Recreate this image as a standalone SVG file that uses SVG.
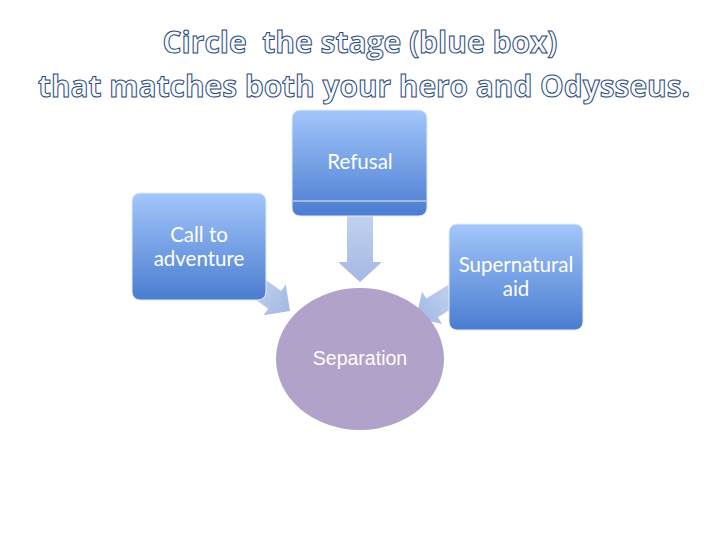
<svg xmlns="http://www.w3.org/2000/svg" width="720" height="540" viewBox="0 0 720 540">
<defs>
<linearGradient id="boxg" x1="0" y1="0" x2="0" y2="1">
<stop offset="0" stop-color="#a3c6fb"/>
<stop offset="1" stop-color="#4a7dd0"/>
</linearGradient>
<linearGradient id="arrg" x1="0" y1="0" x2="1" y2="0">
<stop offset="0" stop-color="#c3d3ef"/>
<stop offset="1" stop-color="#a3b8e3"/>
</linearGradient>
<linearGradient id="arrd" x1="0" y1="0" x2="0" y2="1">
<stop offset="0" stop-color="#c3d3ef"/>
<stop offset="1" stop-color="#a3b8e3"/>
</linearGradient>
</defs>
<style>
.title{font-family:"Open Sans","DejaVu Sans",sans-serif;font-weight:bold;font-size:30px;fill:#f6f9fd;stroke:#2c4876;stroke-width:1px;text-anchor:middle;white-space:pre}
.box{fill:url(#boxg);stroke:#e4ecf8;stroke-width:1}
.lbl{font-family:Lato,"Open Sans",sans-serif;font-size:20.5px;fill:#ffffff;text-anchor:middle}
.sep{font-family:"Liberation Sans",Arial,sans-serif;font-size:19.5px;fill:#ffffff;text-anchor:middle}
.arr{fill:url(#arrg)}
</style>
<rect width="720" height="540" fill="#ffffff"/>
<text class="title" x="360" y="53" textLength="395" lengthAdjust="spacingAndGlyphs" xml:space="preserve">Circle  the stage (blue box)</text>
<text class="title" x="364" y="97" textLength="652" lengthAdjust="spacingAndGlyphs">that matches both your hero and Odysseus.</text>
<g id="connectors">
<polygon points="347,212 373,212 373,262 382,262 360,282 338,262 347,262" fill="url(#arrd)"/>
<polygon class="arr" transform="translate(290,311) rotate(36)" points="-50,-11 -19,-11 -19,-19 0,0 -19,19 -19,11 -50,11"/>
<polygon class="arr" transform="translate(416,318) rotate(148)" points="-50,-11 -19,-11 -19,-19 0,0 -19,19 -19,11 -50,11"/>
</g>
<g id="node-separation">
<ellipse cx="360" cy="359" rx="84" ry="71" fill="#b0a2c8"/>
<text class="sep" x="360" y="365">Separation</text>
</g>
<g id="node-refusal">
<rect class="box" x="292" y="110" width="135" height="106" rx="8"/>
<line x1="293" y1="201" x2="426" y2="201" stroke="#e8f0fb" stroke-width="1.2"/>
<text class="lbl" x="360" y="169">Refusal</text>
</g>
<g id="node-call">
<rect class="box" x="132" y="193" width="134" height="107" rx="8"/>
<text class="lbl" x="199" y="242">Call to</text>
<text class="lbl" x="199" y="266">adventure</text>
</g>
<g id="node-aid">
<rect class="box" x="449" y="224" width="134" height="106" rx="8"/>
<text class="lbl" x="516" y="272">Supernatural</text>
<text class="lbl" x="516" y="296">aid</text>
</g>
</svg>
